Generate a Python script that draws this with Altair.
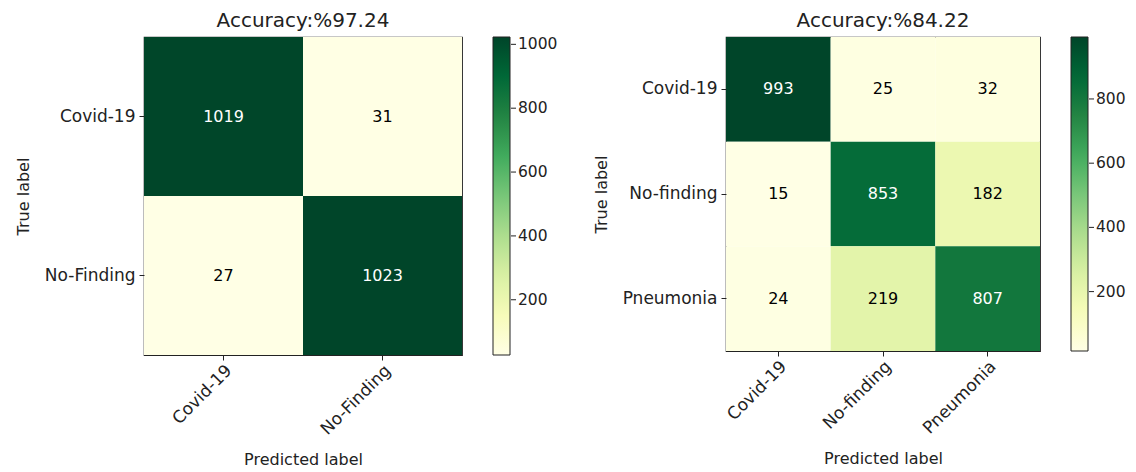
import altair as alt
import pandas as pd

FONT = "DejaVu Sans"

labels_a = ["Covid-19", "No-Finding"]
cm_a = [[1019, 31], [27, 1023]]
title_a = "Accuracy:%97.24"
ticks_a = [200, 400, 600, 800, 1000]

labels_b = ["Covid-19", "No-finding", "Pneumonia"]
cm_b = [[993, 25, 32], [15, 853, 182], [24, 219, 807]]
title_b = "Accuracy:%84.22"
ticks_b = [200, 400, 600, 800]

# matplotlib "YlGn" colormap stops (ColorBrewer YlGn 9)
ylgn = ["#ffffe5", "#f7fcb9", "#d9f0a3", "#addd8e", "#78c679",
        "#41ab5d", "#238443", "#006837", "#004529"]


def cm_chart(labels, cm, title, ticks, size):
    rows = []
    for i, t in enumerate(labels):
        for j, p in enumerate(labels):
            rows.append({"true": t, "pred": p, "v": cm[i][j]})
    df = pd.DataFrame(rows)
    vals = [v for r in cm for v in r]
    lo, hi = min(vals), max(vals)
    n = len(ylgn) - 1
    stops = [lo + k * (hi - lo) / n for k in range(n + 1)]
    cb_x = size + 31
    x_enc = alt.X(
        "pred:N", sort=labels, title="Predicted label",
        axis=alt.Axis(labelAngle=-45, labelAlign="right", labelBaseline="top",
                      labelFontSize=17, titleFontSize=16, labelFont=FONT, titleFont=FONT,
                      titleFontWeight="normal", labelColor="#222", titleColor="#222",
                      tickColor="#222", tickSize=5, domain=False, labelPadding=2,
                      titlePadding=14),
    )
    y_enc = alt.Y(
        "true:N", sort=labels, title="True label",
        axis=alt.Axis(labelFontSize=17, titleFontSize=16, labelFont=FONT, titleFont=FONT,
                      titleFontWeight="normal", labelColor="#222", titleColor="#222",
                      tickColor="#222", tickSize=5, domain=False, labelPadding=4,
                      titlePadding=13),
    )
    base = alt.Chart(df)
    rect = base.mark_rect().encode(
        x=x_enc,
        y=y_enc,
        color=alt.Color(
            "v:Q",
            scale=alt.Scale(domain=stops, range=ylgn, interpolate="rgb",
                            nice=False, zero=False),
            legend=alt.Legend(
                orient="none", legendX=cb_x, legendY=0, direction="vertical",
                gradientLength=size, gradientThickness=17, title=None, values=ticks,
                format="d",
                labelFontSize=15.5, labelFont=FONT, labelColor="#222", labelOffset=8,
                gradientStrokeColor="#222", gradientStrokeWidth=1,
            ),
        ),
    )
    text = base.mark_text(fontSize=16, font=FONT).encode(
        x=alt.X("pred:N", sort=labels),
        y=alt.Y("true:N", sort=labels),
        text="v:Q",
        color=alt.condition(alt.datum.v > hi / 2, alt.value("white"), alt.value("black")),
    )
    tdf = pd.DataFrame({"t": ticks})
    tk = alt.Chart(tdf).mark_rule(color="#222").encode(
        y=alt.Y("t:Q", scale=alt.Scale(domain=[lo, hi], nice=False, zero=False), axis=None),
        x=alt.value(cb_x + 18),
        x2=alt.value(cb_x + 23),
    )
    inner = alt.layer(rect, text)
    return alt.layer(inner, tk).resolve_scale(y="independent").properties(
        width=size, height=size,
        title=alt.TitleParams(title, fontSize=20, font=FONT, fontWeight="normal",
                              color="#222", offset=6, frame="group"),
    )


chart = alt.hconcat(
    cm_chart(labels_a, cm_a, title_a, ticks_a, 318),
    cm_chart(labels_b, cm_b, title_b, ticks_b, 314),
    spacing=33,
).resolve_scale(
    color="independent"
).properties(
    padding={"left": 14, "top": 10, "right": 2, "bottom": 3}
).configure_view(
    stroke="#222", strokeWidth=1.2
)

chart.save("out.html", embed_options={"renderer": "svg", "actions": False})
